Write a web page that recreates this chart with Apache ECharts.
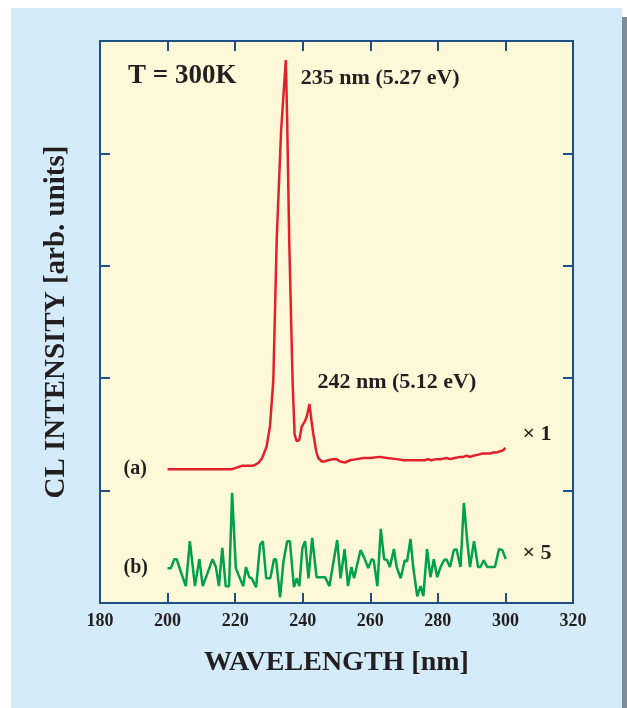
<!DOCTYPE html>
<html>
<head>
<meta charset="utf-8">
<script src="https://cdn.jsdelivr.net/npm/echarts@6/dist/echarts.min.js"></script>
<style>
  html, body { margin: 0; padding: 0; background: #ffffff; }
  #chart { width: 627px; height: 708px; }
</style>
</head>
<body>
<div id="chart"></div>
<script>
// Wavelength ticks (nm) and intensity scale (arb. units)
const xTicks = [180, 200, 220, 240, 260, 280, 300, 320];
const yRange = [0, 5];

// Spectrum (a): [wavelength nm, intensity]
const spectrumA = [
  [200, 1.19], [205, 1.19], [210, 1.19], [215, 1.19], [219, 1.19], [220, 1.20],
  [221, 1.21], [222, 1.22], [223, 1.22], [224, 1.22], [225, 1.22], [226, 1.23],
  [227, 1.25], [228, 1.29], [229.3, 1.39], [230.3, 1.57], [231.3, 1.98], [232.3, 3.23],
  [233.6, 4.20], [235, 4.83], [235.4, 4.30], [236, 3.23], [237, 1.98], [237.6, 1.50],
  [238.2, 1.44], [239, 1.45], [239.7, 1.57], [240.7, 1.62], [241.2, 1.66], [242, 1.77],
  [242.6, 1.62], [243.1, 1.51], [244, 1.35], [244.6, 1.29], [245.6, 1.26], [246.5, 1.26],
  [247.5, 1.27], [249, 1.28], [250, 1.28], [251, 1.26], [252.5, 1.25], [254, 1.27],
  [256, 1.28], [258, 1.29], [260, 1.29], [262.8, 1.30], [265, 1.29], [267.8, 1.28],
  [270, 1.27], [271.7, 1.27], [274, 1.27], [276.2, 1.27], [277, 1.28], [278, 1.27],
  [279.6, 1.28], [281, 1.28], [282.5, 1.29], [283.6, 1.28], [285, 1.29], [286.5, 1.30],
  [287.5, 1.30], [288.5, 1.31], [289.5, 1.30], [290.5, 1.31], [292, 1.32], [293.2, 1.33],
  [294.4, 1.33], [295.5, 1.33], [296.5, 1.34], [297.4, 1.34], [298.5, 1.35], [299.4, 1.36],
  [300, 1.38]
];

// Spectrum (b), shown ×5: [wavelength nm, intensity]
const spectrumB = [
  [200, 0.31], [201, 0.31], [202, 0.39], [202.7, 0.39], [203.9, 0.28], [205.4, 0.15],
  [206.6, 0.55], [208.1, 0.15], [209.4, 0.39], [210.4, 0.15], [211.4, 0.23], [213.3, 0.39],
  [214.3, 0.32], [215.2, 0.15], [216.2, 0.49], [217.2, 0.15], [218.2, 0.15], [219.1, 0.98],
  [220.2, 0.31], [221.4, 0.22], [222.4, 0.15], [223.2, 0.32], [224.2, 0.23], [224.9, 0.22],
  [226.2, 0.14], [227.4, 0.52], [228.2, 0.55], [229.2, 0.22], [230.4, 0.22], [231.5, 0.39],
  [232.1, 0.39], [233.3, 0.05], [234.3, 0.37], [235.4, 0.55], [236.2, 0.55], [237.4, 0.14],
  [238.2, 0.22], [239, 0.15], [239.9, 0.49], [240.7, 0.55], [241.7, 0.22], [242.8, 0.58],
  [244.1, 0.23], [245.1, 0.23], [246.6, 0.23], [247.9, 0.15], [250.2, 0.56], [251.2, 0.22],
  [252.4, 0.48], [253.4, 0.15], [254.4, 0.32], [255.2, 0.22], [257.1, 0.47], [258.1, 0.41],
  [259.4, 0.31], [260.4, 0.39], [261, 0.38], [262.1, 0.15], [263.1, 0.66], [264.1, 0.39],
  [265, 0.38], [265.8, 0.32], [267, 0.48], [267.8, 0.32], [269, 0.22], [270.2, 0.38],
  [270.9, 0.37], [271.9, 0.57], [272.7, 0.32], [273.9, 0.06], [274.9, 0.15], [275.7, 0.06],
  [276.8, 0.48], [277.8, 0.23], [278.8, 0.39], [279.8, 0.23], [280.8, 0.32], [281.8, 0.38],
  [282.5, 0.39], [283.6, 0.32], [284.7, 0.47], [285.5, 0.48], [286.7, 0.32], [287.7, 0.89],
  [288.7, 0.55], [289.5, 0.32], [290.7, 0.55], [291.9, 0.32], [292.6, 0.32], [293.6, 0.38],
  [294.6, 0.32], [295.4, 0.32], [296.9, 0.32], [298.1, 0.48], [299.1, 0.47], [300.1, 0.39]
];

// Annotations: [wavelength, intensity, text]
const peakLabels = [
  [235, 4.83, '235 nm (5.27 eV)'],
  [242, 1.77, '242 nm (5.12 eV)']
];
const tempLabel = 'T = 300K';
const traceNames = ['(a)', '(b)'];
const scaleFactors = ['× 1', '× 5'];

const serif = '"Liberation Serif", "DejaVu Serif", serif';
const ink = '#231f20';
const frame = '#1f4f86';

const chart = echarts.init(document.getElementById('chart'), null, { renderer: 'canvas' });

const grid = { left: 100, right: 54, top: 41, bottom: 105 };

function baseX(pos, showLabels) {
  return {
    type: 'value', position: pos, min: xTicks[0], max: xTicks[xTicks.length - 1],
    interval: xTicks[1] - xTicks[0],
    axisLine: { show: true, onZero: false, lineStyle: { color: frame, width: 2 } },
    axisTick: { show: true, inside: true, length: 10, lineStyle: { color: frame, width: 2 } },
    axisLabel: {
      show: showLabels, margin: 9, color: ink,
      fontFamily: serif, fontWeight: 'bold', fontSize: 18
    },
    splitLine: { show: false }
  };
}
function baseY(pos) {
  return {
    type: 'value', position: pos, min: yRange[0], max: yRange[1], interval: 1,
    axisLine: { show: true, onZero: false, lineStyle: { color: frame, width: 2 } },
    axisTick: { show: true, inside: true, length: 10, lineStyle: { color: frame, width: 2 } },
    axisLabel: { show: false },
    splitLine: { show: false }
  };
}

const xBottom = baseX('bottom', true);
xBottom.name = 'WAVELENGTH [nm]';
xBottom.nameLocation = 'middle';
xBottom.nameGap = 46;
xBottom.nameTextStyle = { color: ink, fontFamily: serif, fontWeight: 'bold', fontSize: 28 };

const yLeft = baseY('left');
yLeft.name = 'CL INTENSITY [arb. units]';
yLeft.nameLocation = 'middle';
yLeft.nameGap = 29;
yLeft.nameTextStyle = { color: ink, fontFamily: serif, fontWeight: 'bold', fontSize: 29 };

chart.setOption({
  animation: false,
  backgroundColor: '#ffffff',
  grid: Object.assign({ show: true, backgroundColor: '#fdf9d8', borderColor: frame, borderWidth: 2 }, grid),
  xAxis: [xBottom, baseX('top', false)],
  yAxis: [yLeft, baseY('right')],
  series: [
    {
      type: 'line', data: spectrumA, showSymbol: false, smooth: false,
      lineStyle: { color: '#e3202a', width: 2.5 }, z: 3
    },
    {
      type: 'line', data: spectrumB, showSymbol: false, smooth: false,
      lineStyle: { color: '#00a14b', width: 2.5 }, z: 3
    }
  ]
});

// Panel background and text annotations placed through the axes
const px = (x, y) => chart.convertToPixel({ xAxisIndex: 0, yAxisIndex: 0 }, [x, y]);
const txt = (x, y, text, size, align, vAlign) => ({
  type: 'text', x: x, y: y, z: 10,
  style: {
    text: text, fill: ink, font: 'bold ' + size + 'px ' + serif,
    textAlign: align || 'left', textVerticalAlign: vAlign || 'middle'
  }
});

const pA = px(235, 4.83);
const pB = px(242, 1.77);
const endA = px(300, 1.38);
const endB = px(300, 0.39);
const startA = px(200, 1.19);
const startB = px(200, 0.31);

chart.setOption({
  graphic: [
    { type: 'rect', shape: { x: 11, y: 8, width: 611, height: 700 }, style: { fill: '#d4ecf9' }, z: -10, silent: true },
    { type: 'rect', shape: { x: 622, y: 17, width: 5, height: 691 }, style: { fill: '#7d8c96' }, z: -10, silent: true },
    { type: 'rect', shape: { x: 100, y: 41, width: 473, height: 562 }, style: { fill: '#fdf9d8' }, z: -9, silent: true },
    txt(128, 76, tempLabel, 27),
    txt(pA[0] + 15, pA[1] + 18, peakLabels[0][2], 22),
    txt(pB[0] + 8, pB[1] - 22, peakLabels[1][2], 22),
    txt(startA[0] - 44, startA[1], traceNames[0], 20),
    txt(startB[0] - 44, startB[1], traceNames[1], 20),
    txt(endA[0] + 17, endA[1] - 14, scaleFactors[0], 22),
    txt(endB[0] + 17, endB[1] - 6, scaleFactors[1], 22)
  ]
});
</script>
</body>
</html>
